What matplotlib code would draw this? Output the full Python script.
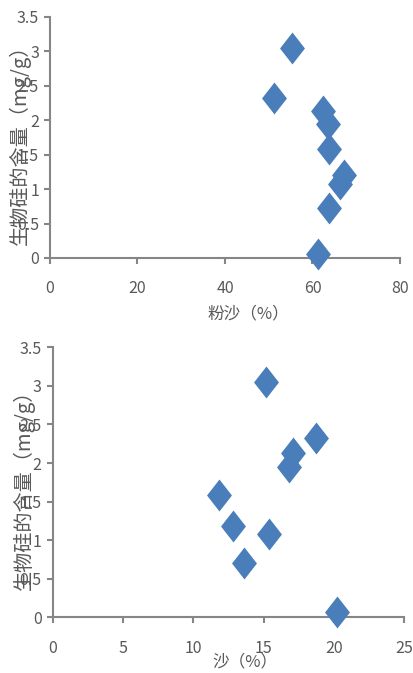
import numpy as np
import matplotlib
matplotlib.use('Agg')
from matplotlib import pyplot as plt
from matplotlib.path import Path

plt.rcParams['font.family'] = ['Noto Sans CJK SC', 'DejaVu Sans']

# 生物硅含量 (mg/g)
bsi = [3.05, 2.33, 2.13, 1.95, 1.59, 1.20, 1.08, 0.72, 0.06]
# 粉沙 (%)
silt = [55.3, 51.2, 62.5, 63.5, 63.8, 67.3, 66.4, 63.8, 61.3]
bsi_sand = [3.05, 2.33, 2.13, 1.95, 1.58, 1.18, 1.08, 0.71, 0.07]
# 沙 (%)
sand = [15.2, 18.7, 17.1, 16.8, 11.8, 12.8, 15.4, 13.6, 20.2]

y_ticks = [0, 0.5, 1, 1.5, 2, 2.5, 3, 3.5]
y_ticklabels = ['0', '0.5', '1', '1.5', '2', '2.5', '3', '3.5']

blue = '#4a7ebb'
gray = '#868686'
txt = '#595959'

diamond = Path([(0, 1), (0.78, 0), (0, -1), (-0.78, 0), (0, 1)],
               [Path.MOVETO, Path.LINETO, Path.LINETO, Path.LINETO, Path.CLOSEPOLY])

W, H = 414, 673
fig = plt.figure(figsize=(W / 100, H / 100), dpi=100)


def panel(rect, x, y, xmax, xstep, xlabel, xlab_pos, ylab_pos):
    ax = fig.add_axes(rect)
    ax.plot(x, y, linestyle='none', marker=diamond, ms=23, color=blue,
            markeredgewidth=0, clip_on=False, zorder=5)
    ax.set_xlim(0, xmax)
    ax.set_ylim(0, 3.5)
    ax.set_xticks(np.arange(0, xmax + 1, xstep))
    ax.set_yticks(y_ticks)
    ax.set_yticklabels(y_ticklabels)
    for s in ['top', 'right']:
        ax.spines[s].set_visible(False)
    for s in ['left', 'bottom']:
        ax.spines[s].set_color(gray)
        ax.spines[s].set_linewidth(1.5)
    ax.tick_params(colors=gray, labelcolor=txt, labelsize=11.5, width=1.5,
                   length=4, direction='out')
    ax.tick_params(axis='x', pad=12)
    ax.tick_params(axis='y', pad=4)
    fig.text(xlab_pos[0] / W, 1 - xlab_pos[1] / H, xlabel, ha='center',
             va='center', fontsize=12, color=txt)
    fig.text(ylab_pos[0] / W, 1 - ylab_pos[1] / H, '生物硅的含量（mg/g）',
             rotation=90, ha='center', va='center', fontsize=14.5, color=txt)
    return ax


panel([50 / W, 1 - 258 / H, 350 / W, 241 / H], silt, bsi, 80, 20,
      '粉沙（%）', (248, 314), (20, 140))
panel([52.7 / W, 1 - 617.3 / H, 351.6 / W, 270 / H], sand, bsi_sand, 25, 5,
      '沙（%）', (245, 662), (24, 485))

fig.savefig('out.png', dpi=100)
